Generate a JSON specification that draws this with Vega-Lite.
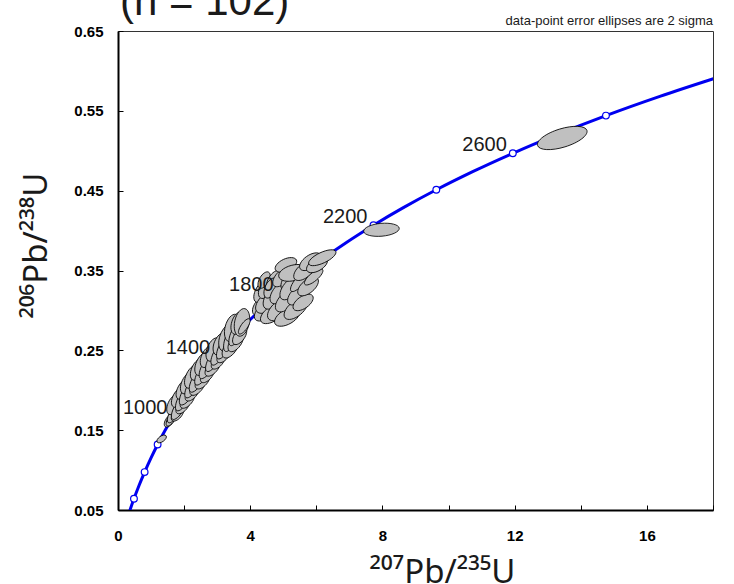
{
  "$schema": "https://vega.github.io/schema/vega-lite/v6.json",
  "autosize": "none",
  "width": 595,
  "height": 479,
  "padding": {"left": 118, "top": 31, "right": 21, "bottom": 74},
  "background": "white",
  "config": {
    "view": {"stroke": "#333333", "strokeWidth": 1},
    "axis": {
      "grid": false,
      "labelFont": "Liberation Sans",
      "labelFontWeight": "bold",
      "labelFontSize": 15,
      "labelColor": "#000000",
      "tickColor": "#000000",
      "tickSize": -5,
      "tickWidth": 1,
      "domainColor": "#000000",
      "domainWidth": 2,
      "labelOverlap": false,
      "labelFlush": false,
      "titleFont": "Noto Sans",
      "titleFontWeight": "normal",
      "titleFontSize": 33,
      "titleColor": "#1a1a1a"
    }
  },
  "datasets": {
    "concordia": [
      {"t": 300, "pb207_u235": 0.3437, "pb206_u238": 0.0476},
      {"t": 400, "pb207_u235": 0.4828, "pb206_u238": 0.0640},
      {"t": 500, "pb207_u235": 0.6363, "pb206_u238": 0.0807},
      {"t": 600, "pb207_u235": 0.8056, "pb206_u238": 0.0975},
      {"t": 700, "pb207_u235": 0.9925, "pb206_u238": 0.1147},
      {"t": 800, "pb207_u235": 1.1987, "pb206_u238": 0.1321},
      {"t": 900, "pb207_u235": 1.4263, "pb206_u238": 0.1498},
      {"t": 1000, "pb207_u235": 1.6774, "pb206_u238": 0.1678},
      {"t": 1100, "pb207_u235": 1.9545, "pb206_u238": 0.1861},
      {"t": 1200, "pb207_u235": 2.2603, "pb206_u238": 0.2046},
      {"t": 1300, "pb207_u235": 2.5978, "pb206_u238": 0.2234},
      {"t": 1400, "pb207_u235": 2.9701, "pb206_u238": 0.2426},
      {"t": 1500, "pb207_u235": 3.3810, "pb206_u238": 0.2620},
      {"t": 1600, "pb207_u235": 3.8344, "pb206_u238": 0.2817},
      {"t": 1700, "pb207_u235": 4.3348, "pb206_u238": 0.3018},
      {"t": 1800, "pb207_u235": 4.8869, "pb206_u238": 0.3221},
      {"t": 1900, "pb207_u235": 5.4962, "pb206_u238": 0.3428},
      {"t": 2000, "pb207_u235": 6.1685, "pb206_u238": 0.3638},
      {"t": 2100, "pb207_u235": 6.9105, "pb206_u238": 0.3851},
      {"t": 2200, "pb207_u235": 7.7292, "pb206_u238": 0.4067},
      {"t": 2300, "pb207_u235": 8.6326, "pb206_u238": 0.4287},
      {"t": 2400, "pb207_u235": 9.6295, "pb206_u238": 0.4511},
      {"t": 2500, "pb207_u235": 10.7297, "pb206_u238": 0.4738},
      {"t": 2600, "pb207_u235": 11.9438, "pb206_u238": 0.4968},
      {"t": 2700, "pb207_u235": 13.2833, "pb206_u238": 0.5202},
      {"t": 2800, "pb207_u235": 14.7617, "pb206_u238": 0.5440},
      {"t": 2900, "pb207_u235": 16.3928, "pb206_u238": 0.5681},
      {"t": 3000, "pb207_u235": 18.1931, "pb206_u238": 0.5926}
    ],
    "age_marks": [
      {"t": 400, "pb207_u235": 0.4828, "pb206_u238": 0.0640},
      {"t": 600, "pb207_u235": 0.8056, "pb206_u238": 0.0975},
      {"t": 800, "pb207_u235": 1.1987, "pb206_u238": 0.1321},
      {"t": 1000, "pb207_u235": 1.6774, "pb206_u238": 0.1678, "label": "1000"},
      {"t": 1200, "pb207_u235": 2.2603, "pb206_u238": 0.2046},
      {"t": 1400, "pb207_u235": 2.9701, "pb206_u238": 0.2426, "label": "1400"},
      {"t": 1600, "pb207_u235": 3.8344, "pb206_u238": 0.2817},
      {"t": 1800, "pb207_u235": 4.8869, "pb206_u238": 0.3221, "label": "1800"},
      {"t": 2000, "pb207_u235": 6.1685, "pb206_u238": 0.3638},
      {"t": 2200, "pb207_u235": 7.7292, "pb206_u238": 0.4067, "label": "2200"},
      {"t": 2400, "pb207_u235": 9.6295, "pb206_u238": 0.4511},
      {"t": 2600, "pb207_u235": 11.9438, "pb206_u238": 0.4968, "label": "2600"},
      {"t": 2800, "pb207_u235": 14.7617, "pb206_u238": 0.5440}
    ],
    "analyses": [
      {"pb207_u235": 1.32, "pb206_u238": 0.139, "err": 0.33, "tilt": -35, "aspect": "broad"},
      {"pb207_u235": 1.56, "pb206_u238": 0.162, "err": 0.45, "tilt": -55, "aspect": "broad"},
      {"pb207_u235": 1.64, "pb206_u238": 0.166, "err": 0.60, "tilt": -58, "aspect": "narrow"},
      {"pb207_u235": 1.70, "pb206_u238": 0.172, "err": 0.70, "tilt": -60, "aspect": "narrow"},
      {"pb207_u235": 1.80, "pb206_u238": 0.170, "err": 0.50, "tilt": -50, "aspect": "broad"},
      {"pb207_u235": 1.68, "pb206_u238": 0.182, "err": 0.65, "tilt": -65, "aspect": "broad"},
      {"pb207_u235": 1.85, "pb206_u238": 0.178, "err": 0.80, "tilt": -60, "aspect": "narrow"},
      {"pb207_u235": 1.96, "pb206_u238": 0.180, "err": 0.55, "tilt": -50, "aspect": "broad"},
      {"pb207_u235": 1.83, "pb206_u238": 0.191, "err": 0.65, "tilt": -62, "aspect": "broad"},
      {"pb207_u235": 1.98, "pb206_u238": 0.190, "err": 0.85, "tilt": -62, "aspect": "narrow"},
      {"pb207_u235": 2.10, "pb206_u238": 0.188, "err": 0.60, "tilt": -52, "aspect": "broad"},
      {"pb207_u235": 1.97, "pb206_u238": 0.201, "err": 0.65, "tilt": -62, "aspect": "broad"},
      {"pb207_u235": 2.12, "pb206_u238": 0.198, "err": 0.90, "tilt": -60, "aspect": "narrow"},
      {"pb207_u235": 2.24, "pb206_u238": 0.196, "err": 0.55, "tilt": -50, "aspect": "broad"},
      {"pb207_u235": 2.11, "pb206_u238": 0.209, "err": 0.70, "tilt": -65, "aspect": "broad"},
      {"pb207_u235": 2.27, "pb206_u238": 0.206, "err": 0.85, "tilt": -60, "aspect": "narrow"},
      {"pb207_u235": 2.40, "pb206_u238": 0.204, "err": 0.60, "tilt": -50, "aspect": "broad"},
      {"pb207_u235": 2.25, "pb206_u238": 0.217, "err": 0.75, "tilt": -65, "aspect": "broad"},
      {"pb207_u235": 2.42, "pb206_u238": 0.214, "err": 0.90, "tilt": -60, "aspect": "narrow"},
      {"pb207_u235": 2.56, "pb206_u238": 0.212, "err": 0.60, "tilt": -50, "aspect": "broad"},
      {"pb207_u235": 2.41, "pb206_u238": 0.226, "err": 0.70, "tilt": -65, "aspect": "broad"},
      {"pb207_u235": 2.57, "pb206_u238": 0.222, "err": 0.85, "tilt": -60, "aspect": "narrow"},
      {"pb207_u235": 2.70, "pb206_u238": 0.219, "err": 0.55, "tilt": -50, "aspect": "broad"},
      {"pb207_u235": 2.56, "pb206_u238": 0.233, "err": 0.75, "tilt": -65, "aspect": "broad"},
      {"pb207_u235": 2.72, "pb206_u238": 0.231, "err": 0.90, "tilt": -60, "aspect": "narrow"},
      {"pb207_u235": 2.86, "pb206_u238": 0.228, "err": 0.60, "tilt": -50, "aspect": "broad"},
      {"pb207_u235": 2.71, "pb206_u238": 0.242, "err": 0.70, "tilt": -65, "aspect": "broad"},
      {"pb207_u235": 2.90, "pb206_u238": 0.239, "err": 0.85, "tilt": -60, "aspect": "narrow"},
      {"pb207_u235": 3.03, "pb206_u238": 0.236, "err": 0.55, "tilt": -50, "aspect": "broad"},
      {"pb207_u235": 2.89, "pb206_u238": 0.251, "err": 0.75, "tilt": -68, "aspect": "broad"},
      {"pb207_u235": 3.06, "pb206_u238": 0.247, "err": 0.85, "tilt": -60, "aspect": "narrow"},
      {"pb207_u235": 3.20, "pb206_u238": 0.244, "err": 0.55, "tilt": -50, "aspect": "broad"},
      {"pb207_u235": 3.09, "pb206_u238": 0.258, "err": 0.70, "tilt": -68, "aspect": "broad"},
      {"pb207_u235": 3.22, "pb206_u238": 0.255, "err": 0.85, "tilt": -62, "aspect": "narrow"},
      {"pb207_u235": 3.30, "pb206_u238": 0.266, "err": 0.85, "tilt": -70, "aspect": "broad"},
      {"pb207_u235": 3.40, "pb206_u238": 0.253, "err": 0.70, "tilt": -55, "aspect": "broad"},
      {"pb207_u235": 3.42, "pb206_u238": 0.266, "err": 0.90, "tilt": -68, "aspect": "narrow"},
      {"pb207_u235": 3.56, "pb206_u238": 0.260, "err": 0.65, "tilt": -55, "aspect": "broad"},
      {"pb207_u235": 3.46, "pb206_u238": 0.278, "err": 0.85, "tilt": -75, "aspect": "broad"},
      {"pb207_u235": 3.58, "pb206_u238": 0.272, "err": 0.85, "tilt": -65, "aspect": "narrow"},
      {"pb207_u235": 3.68, "pb206_u238": 0.268, "err": 0.60, "tilt": -55, "aspect": "broad"},
      {"pb207_u235": 3.62, "pb206_u238": 0.284, "err": 0.70, "tilt": -72, "aspect": "broad"},
      {"pb207_u235": 3.75, "pb206_u238": 0.285, "err": 0.85, "tilt": -78, "aspect": "broad"},
      {"pb207_u235": 3.82, "pb206_u238": 0.280, "err": 0.55, "tilt": -55, "aspect": "narrow"},
      {"pb207_u235": 4.30, "pb206_u238": 0.306, "err": 0.65, "tilt": -55, "aspect": "broad"},
      {"pb207_u235": 4.36, "pb206_u238": 0.324, "err": 0.75, "tilt": -60, "aspect": "broad"},
      {"pb207_u235": 4.48, "pb206_u238": 0.300, "err": 0.85, "tilt": -40, "aspect": "broad"},
      {"pb207_u235": 4.58, "pb206_u238": 0.312, "err": 1.00, "tilt": -40, "aspect": "broad"},
      {"pb207_u235": 4.50, "pb206_u238": 0.329, "err": 0.75, "tilt": -60, "aspect": "broad"},
      {"pb207_u235": 4.42, "pb206_u238": 0.338, "err": 0.55, "tilt": -60, "aspect": "broad"},
      {"pb207_u235": 4.68, "pb206_u238": 0.296, "err": 0.85, "tilt": -35, "aspect": "broad"},
      {"pb207_u235": 4.75, "pb206_u238": 0.318, "err": 0.95, "tilt": -50, "aspect": "broad"},
      {"pb207_u235": 4.72, "pb206_u238": 0.337, "err": 0.70, "tilt": -60, "aspect": "broad"},
      {"pb207_u235": 4.62, "pb206_u238": 0.328, "err": 0.65, "tilt": -65, "aspect": "broad"},
      {"pb207_u235": 4.92, "pb206_u238": 0.302, "err": 0.95, "tilt": -40, "aspect": "broad"},
      {"pb207_u235": 4.92, "pb206_u238": 0.323, "err": 0.85, "tilt": -50, "aspect": "broad"},
      {"pb207_u235": 4.98, "pb206_u238": 0.342, "err": 0.75, "tilt": -45, "aspect": "broad"},
      {"pb207_u235": 5.12, "pb206_u238": 0.292, "err": 0.85, "tilt": -30, "aspect": "broad"},
      {"pb207_u235": 5.12, "pb206_u238": 0.313, "err": 0.90, "tilt": -45, "aspect": "broad"},
      {"pb207_u235": 5.08, "pb206_u238": 0.357, "err": 0.70, "tilt": -25, "aspect": "broad"},
      {"pb207_u235": 5.18, "pb206_u238": 0.338, "err": 0.70, "tilt": -55, "aspect": "broad"},
      {"pb207_u235": 5.22, "pb206_u238": 0.328, "err": 0.85, "tilt": -50, "aspect": "broad"},
      {"pb207_u235": 5.38, "pb206_u238": 0.302, "err": 0.85, "tilt": -40, "aspect": "broad"},
      {"pb207_u235": 5.30, "pb206_u238": 0.347, "err": 0.90, "tilt": -15, "aspect": "broad"},
      {"pb207_u235": 5.45, "pb206_u238": 0.320, "err": 0.80, "tilt": -45, "aspect": "broad"},
      {"pb207_u235": 5.48, "pb206_u238": 0.336, "err": 0.75, "tilt": -50, "aspect": "narrow"},
      {"pb207_u235": 5.60, "pb206_u238": 0.310, "err": 0.70, "tilt": -35, "aspect": "broad"},
      {"pb207_u235": 5.65, "pb206_u238": 0.350, "err": 0.80, "tilt": -40, "aspect": "broad"},
      {"pb207_u235": 5.75, "pb206_u238": 0.330, "err": 0.75, "tilt": -40, "aspect": "broad"},
      {"pb207_u235": 5.82, "pb206_u238": 0.361, "err": 0.75, "tilt": -35, "aspect": "broad"},
      {"pb207_u235": 5.92, "pb206_u238": 0.342, "err": 0.70, "tilt": -40, "aspect": "narrow"},
      {"pb207_u235": 6.02, "pb206_u238": 0.357, "err": 0.70, "tilt": -30, "aspect": "broad"},
      {"pb207_u235": 6.18, "pb206_u238": 0.366, "err": 0.90, "tilt": -25, "aspect": "narrow"},
      {"pb207_u235": 7.97, "pb206_u238": 0.401, "err": 1.08, "tilt": -5, "aspect": "narrow"},
      {"pb207_u235": 13.44, "pb206_u238": 0.516, "err": 1.56, "tilt": -17, "aspect": "narrow"}
    ]
  },
  "layer": [
    {
      "encoding": {
        "x": {
          "field": "pb207_u235",
          "type": "quantitative",
          "scale": {"domain": [0, 18], "nice": false, "zero": false},
          "axis": {
            "title": "²⁰⁷Pb/²³⁵U",
            "values": [0, 2, 4, 6, 8, 10, 12, 14, 16, 18],
            "labelExpr": "datum.value % 4 === 0 ? datum.label : ''",
            "labelPadding": 23,
            "titleX": 324,
            "titleY": 72,
            "titleBaseline": "alphabetic",
            "titleAlign": "center"
          }
        },
        "y": {
          "field": "pb206_u238",
          "type": "quantitative",
          "scale": {"domain": [0.05, 0.65], "nice": false, "zero": false},
          "axis": {
            "title": "²⁰⁶Pb/²³⁸U",
            "values": [0.05, 0.1, 0.15, 0.2, 0.25, 0.3, 0.35, 0.4, 0.45, 0.5, 0.55, 0.6, 0.65],
            "labelExpr": "round(datum.value * 100) % 10 === 5 ? format(datum.value, '.2f') : ''",
            "labelPadding": 20,
            "titleX": -72,
            "titleY": 214,
            "titleAngle": -90,
            "titleBaseline": "alphabetic",
            "titleAlign": "center"
          }
        }
      },
      "layer": [
        {
          "data": {"name": "concordia"},
          "mark": {"type": "line", "color": "#0000f0", "strokeWidth": 3, "clip": true, "interpolate": "monotone"},
          "encoding": {"order": {"field": "t", "type": "quantitative"}}
        },
        {
          "data": {"name": "age_marks"},
          "mark": {"type": "point", "shape": "circle", "filled": true, "fill": "white", "stroke": "#0000f0", "strokeWidth": 1.2, "size": 45, "opacity": 1}
        },
        {
          "data": {"name": "analyses"},
          "mark": {"type": "point", "filled": true, "fill": "#c0c0c0", "stroke": "#000000", "strokeWidth": 0.8, "opacity": 1, "fillOpacity": 1},
          "encoding": {
            "size": {"field": "err", "type": "quantitative", "scale": {"type": "pow", "exponent": 2, "domain": [0, 1], "range": [0, 1093]}, "legend": null},
            "angle": {"field": "tilt", "type": "quantitative", "scale": {"domain": [-90, 90], "range": [-90, 90]}},
            "shape": {"field": "aspect", "type": "nominal", "scale": {"domain": ["narrow", "broad"], "range": ["M-1,0A1,0.36,0,1,1,1,0A1,0.36,0,1,1,-1,0Z", "M-1,0A1,0.52,0,1,1,1,0A1,0.52,0,1,1,-1,0Z"]}, "legend": null}
          }
        },
        {
          "data": {"name": "age_marks"},
          "transform": [{"filter": "datum.label != null"}],
          "mark": {"type": "text", "align": "right", "baseline": "alphabetic", "dx": -6, "dy": -2, "font": "Liberation Sans", "fontSize": 20, "color": "#1a1a1a"},
          "encoding": {"text": {"field": "label", "type": "nominal"}}
        }
      ]
    },
    {
      "data": {"values": [{"note": "data-point error ellipses are 2 sigma"}]},
      "mark": {"type": "text", "align": "right", "baseline": "alphabetic", "dy": -6, "font": "Liberation Sans", "fontSize": 13, "color": "#1a1a1a"},
      "encoding": {
        "x": {"datum": 18, "type": "quantitative"},
        "y": {"datum": 0.65, "type": "quantitative"},
        "text": {"field": "note", "type": "nominal"}
      }
    },
    {
      "data": {"values": [{"note": "(n = 102)"}]},
      "mark": {"type": "text", "align": "left", "baseline": "alphabetic", "dx": 2, "dy": -16, "font": "Liberation Sans", "fontSize": 42, "color": "#1a1a1a"},
      "encoding": {
        "x": {"datum": 0, "type": "quantitative"},
        "y": {"datum": 0.65, "type": "quantitative"},
        "text": {"field": "note", "type": "nominal"}
      }
    }
  ]
}
